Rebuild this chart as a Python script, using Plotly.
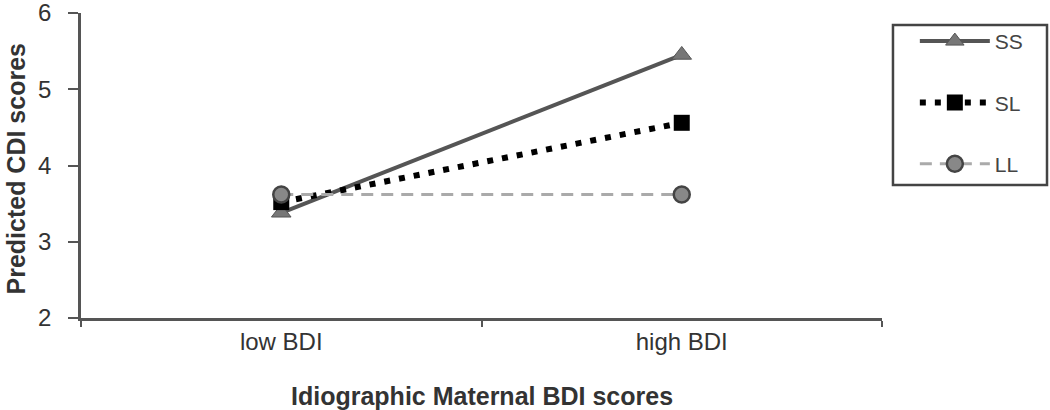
import plotly.graph_objects as go

categories = ["low BDI", "high BDI"]
ss_values = [3.38, 5.45]
sl_values = [3.52, 4.56]
ll_values = [3.62, 3.62]
y_ticks = [2, 3, 4, 5, 6]

fig = go.Figure()
fig.add_trace(go.Scatter(
    x=categories, y=ss_values, name="SS", mode="lines+markers",
    line=dict(color="#555555", width=4),
    marker=dict(symbol="triangle-up", size=17, color="#777777",
                line=dict(color="#555555", width=1)),
    legendgroup="a"))
fig.add_trace(go.Scatter(
    x=categories, y=sl_values, name="SL", mode="lines+markers",
    line=dict(color="#000000", width=6, dash="6px,9px"),
    marker=dict(symbol="square", size=16, color="#000000"),
    legendgroup="b"))
fig.add_trace(go.Scatter(
    x=categories, y=ll_values, name="LL", mode="lines+markers",
    line=dict(color="#aaaaaa", width=3, dash="12px,8px"),
    marker=dict(symbol="circle", size=16, color="#888888",
                line=dict(color="#444444", width=2.5)),
    legendgroup="c"))

fig.update_layout(
    width=1050, height=410,
    margin=dict(l=81, r=168, t=13, b=92),
    plot_bgcolor="white", paper_bgcolor="white",
    font=dict(family="Liberation Sans, Arial, sans-serif", color="#333333", size=20),
    legend=dict(
        x=1.041, y=0.974, xanchor="left", yanchor="top",
        borderwidth=0, bgcolor="rgba(0,0,0,0)",
        font=dict(size=21, color="#444444"),
        itemwidth=70, tracegroupgap=31,
        traceorder="grouped",
    ),
    xaxis=dict(
        type="category", range=[-0.5, 1.5], automargin=False,
        showline=True, linecolor="#555555", linewidth=2.5,
        ticks="outside", ticklen=6, tickcolor="#555555", tickwidth=2,
        tickson="boundaries", showgrid=False, zeroline=False,
        tickfont=dict(size=24, color="#333333"),
    ),
    yaxis=dict(
        range=[2, 6], tickvals=y_ticks, automargin=False,
        showline=True, linecolor="#555555", linewidth=2.5,
        ticks="outside", ticklen=10, tickcolor="#555555", tickwidth=2,
        ticklabelstandoff=12, ticklabeloverflow="allow",
        showgrid=False, zeroline=False,
        tickfont=dict(size=24, color="#333333"),
    ),
    shapes=[
        dict(type="rect", xref="paper", yref="paper",
             x0=1.0137, x1=1.206, y0=0.436, y1=0.961,
             line=dict(color="#444444", width=2.5), fillcolor="rgba(0,0,0,0)"),
    ],
    annotations=[
        dict(text="<b>Idiographic Maternal BDI scores</b>", xref="paper", yref="paper",
             x=0.5, y=-0.255, xanchor="center", yanchor="middle", showarrow=False,
             font=dict(size=25, color="#333333")),
        dict(text="<b>Predicted CDI scores</b>", xref="paper", yref="paper",
             x=-0.0812, y=0.49, xanchor="center", yanchor="middle", showarrow=False,
             textangle=-90, font=dict(size=25, color="#333333")),
    ],
)

fig.write_html("out.html", config={"displayModeBar": False},
               post_script="document.body.style.margin='0';document.body.style.overflow='hidden';")
